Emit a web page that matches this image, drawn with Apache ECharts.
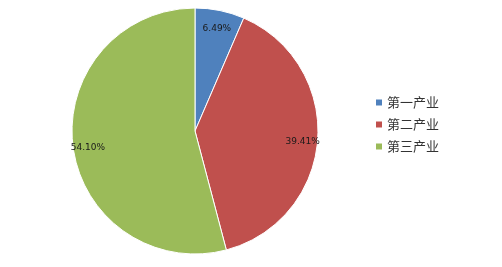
<!DOCTYPE html>
<html><head><meta charset="utf-8">
<script src="https://cdn.jsdelivr.net/npm/echarts@6/dist/echarts.min.js"></script>
<style>html,body{margin:0;padding:0;background:#fff}#c{width:502px;height:267px}</style>
</head><body><div id="c"></div>
<script>
const categories = ['第一产业', '第二产业', '第三产业'];
const values = [6.49, 39.41, 54.10];
const colors = ['#4F81BD', '#C0504D', '#9BBB59'];

const data = categories.map((n, i) => ({ name: n, value: values[i], itemStyle: { color: colors[i] } }));
const chart = echarts.init(document.getElementById('c'));
chart.setOption({
  animation: false,
  legend: {
    orient: 'vertical', left: 369, top: 91, itemWidth: 8, itemHeight: 8, itemGap: 9,
    icon: 'rect',
    textStyle: { fontSize: 13, color: '#333', fontFamily: 'Noto Sans CJK SC', padding: [0, 0, 0, -1] },
    data: categories
  },
  series: [
    {
      type: 'pie', center: [195, 131], radius: [0, 123], startAngle: 90, clockwise: true,
      label: { show: false }, labelLine: { show: false },
      itemStyle: { borderColor: '#fff', borderWidth: 1 },
      emphasis: { disabled: true },
      data: data
    },
    {
      type: 'pie', center: [195, 134], radius: [87, 123], startAngle: 90, clockwise: true,
      silent: true, legendHoverLink: false,
      itemStyle: { color: 'rgba(0,0,0,0)' },
      label: { show: true, position: 'inside', formatter: p => p.value.toFixed(2) + '%', fontSize: 9, color: '#1a1a1a', fontFamily: 'DejaVu Sans' },
      labelLine: { show: false },
      emphasis: { disabled: true },
      data: categories.map((n, i) => ({ name: n + ' ', value: values[i] }))
    }
  ]
});
</script></body></html>
